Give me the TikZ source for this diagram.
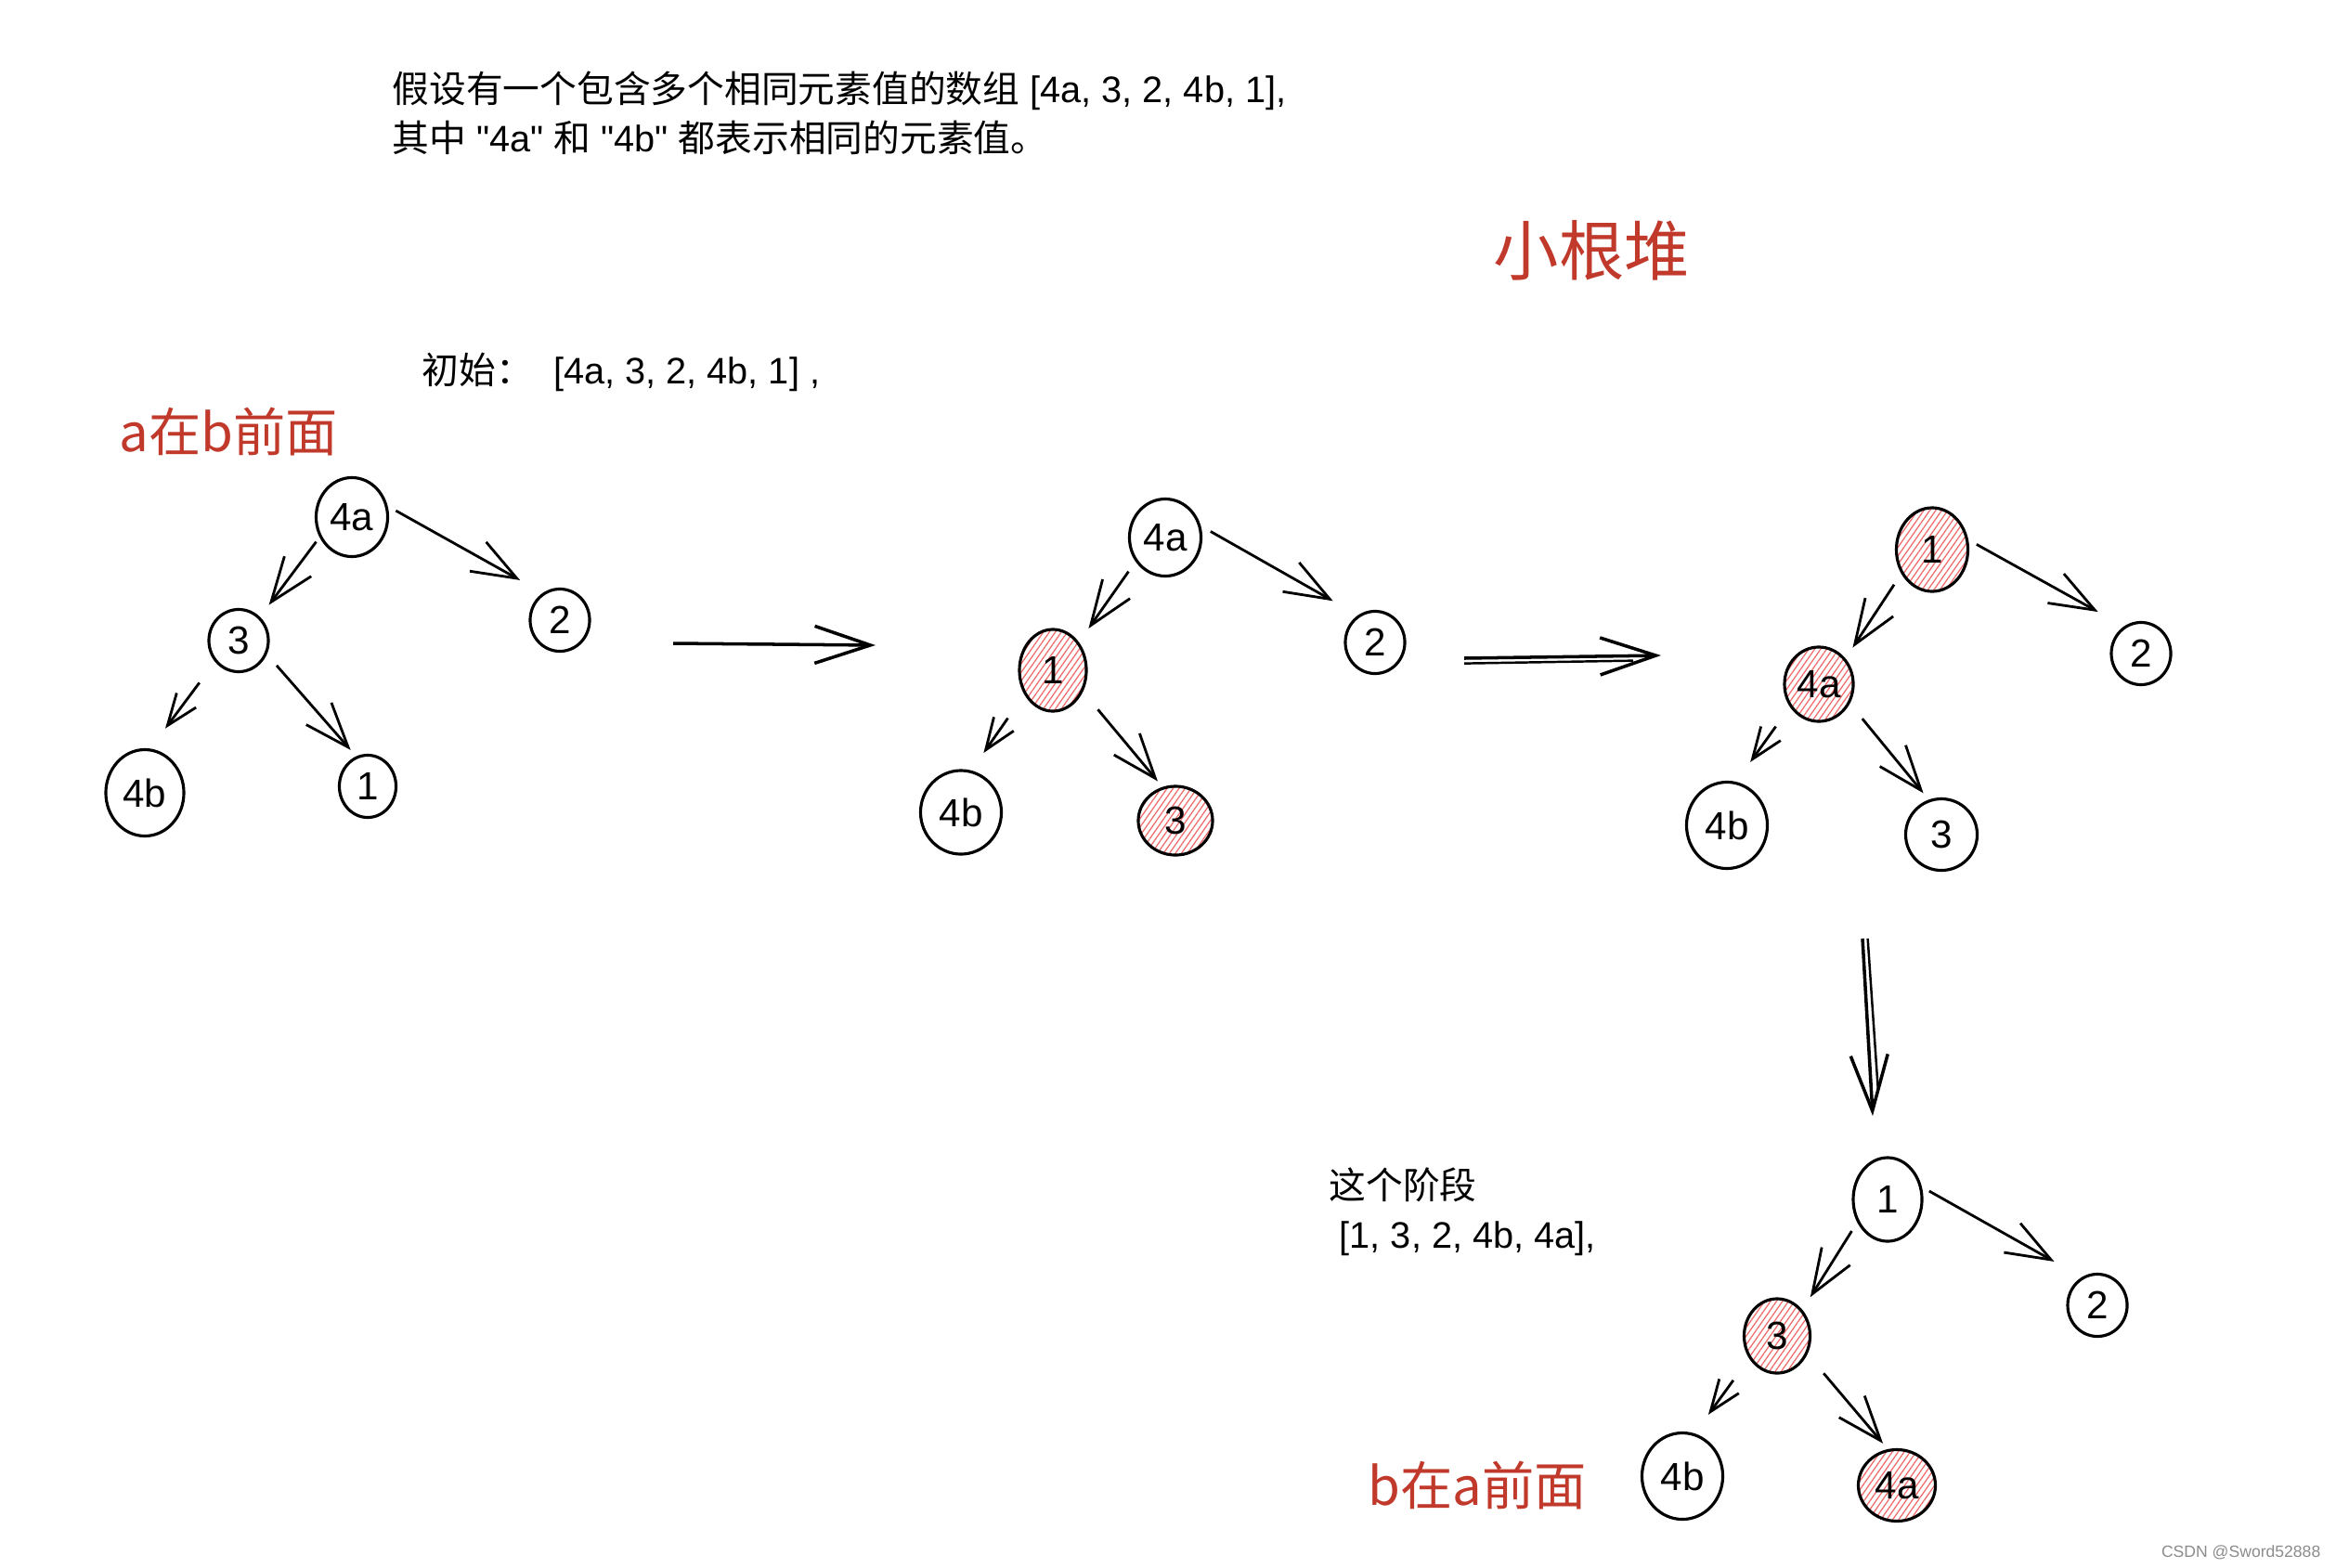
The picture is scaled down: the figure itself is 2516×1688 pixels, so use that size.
\documentclass[tikz,border=0pt]{standalone}
\usepackage{fontspec}
\usepackage{tikz}
\usetikzlibrary{arrows.meta,shapes.geometric,patterns.meta}
\setmainfont{Liberation Sans}
\newfontfamily\cjkfont{Noto Sans CJK SC}
\newcommand{\zh}[1]{{\cjkfont #1}}
\newcommand{\dq}{\XeTeXglyph\XeTeXcharglyph 34 \relax}
\definecolor{notered}{RGB}{192,57,43}
\definecolor{hatchred}{RGB}{240,105,105}
\tikzset{
  nd/.style 2 args={ellipse,draw=black,line width=0.9pt,minimum width=#1,minimum height=#2,
    inner sep=0pt,font=\fontsize{12}{14}\selectfont},
  hot/.style={pattern={Lines[angle=55,distance=1.5pt,line width=0.35pt]},pattern color=hatchred},
  arr/.style={-{Straight Barb[length=0.48cm,width=0.36cm]},line width=0.8pt},
  arrs/.style={-{Straight Barb[length=0.34cm,width=0.26cm]},line width=0.8pt},
  bigarr/.style={-{Straight Barb[length=0.6cm,width=0.4cm]},line width=1pt},
  txt/.style={anchor=west,align=left,inner sep=0pt,font=\fontsize{11.3}{15}\selectfont},
  redtxt/.style={anchor=west,inner sep=0pt,text=notered,font=\cjkfont\fontsize{16}{18}\selectfont}
}
\begin{document}
\begin{tikzpicture}[x=0.01cm,y=-0.01cm]
    \path[fill=white] (0,0) rectangle (2516,1688);
    \useasboundingbox (0,0) rectangle (2516,1688);

    % Texts
    \node[txt] (intro) at (422,122) {\zh{假设有一个包含多个相同元素值的数组} [4a, 3, 2, 4b, 1],\\\zh{其中} \dq4a\dq\ \zh{和} \dq4b\dq\ \zh{都表示相同的元素值。}};
    \node[anchor=west,inner sep=0pt,text=notered,font=\cjkfont\fontsize{20}{22}\selectfont] (title) at (1608,270) {小根堆};
    \node[txt] (start) at (454,401) {\zh{初始：}\ \ [4a, 3, 2, 4b, 1] ,};
    \node[redtxt] (abefore) at (128,465) {a在b前面};
    \node[txt] (stage) at (1431,1305) {\zh{这个阶段}\\\ [1, 3, 2, 4b, 4a],};
    \node[redtxt] (bbefore) at (1473,1600) {b在a前面};
    \node[anchor=east,inner sep=0pt,text=black!45,font=\fontsize{5}{6}\selectfont] (mark) at (2500,1672) {CSDN @Sword52888};

    % Tree 1: initial
    \node[nd={0.77cm}{0.85cm}] (t1n4a) at (379,557) {4a};
    \node[nd={0.64cm}{0.67cm}] (t1n3) at (257,690) {3};
    \node[nd={0.64cm}{0.67cm}] (t1n2) at (603,668) {2};
    \node[nd={0.84cm}{0.93cm}] (t1n4b) at (156,854) {4b};
    \node[nd={0.61cm}{0.67cm}] (t1n1) at (396,847) {1};
    \draw[arr,shorten <=0.06cm,shorten >=0.16cm] (t1n4a.212) -- (t1n3.48);
    \draw[arr,shorten <=0.10cm,shorten >=0.28cm] (t1n4a.17) -- (t1n2.122);
    \draw[arrs,shorten <=0.28cm,shorten >=0.27cm] (t1n3.222) -- (t1n4b.83);
    \draw[arr,shorten <=0.16cm,shorten >=0.09cm] (t1n3.334) -- (t1n1.111);

    % Tree 2: 1 up
    \node[nd={0.77cm}{0.83cm}] (t2n4a) at (1255,579) {4a};
    \node[nd={0.72cm}{0.88cm},hot] (t2n1) at (1134,722) {1};
    \node[nd={0.64cm}{0.67cm}] (t2n2) at (1481,692) {2};
    \node[nd={0.87cm}{0.90cm}] (t2n4b) at (1035,875) {4b};
    \node[nd={0.80cm}{0.74cm},hot] (t2n3) at (1266,884) {3};
    \draw[arr,shorten <=0.13cm,shorten >=0.19cm] (t2n4a.219) -- (t2n1.47);
    \draw[arr,shorten <=0.12cm,shorten >=0.31cm] (t2n4a.18) -- (t2n2.122);
    \draw[arrs,shorten <=0.32cm,shorten >=0.23cm] (t2n1.220) -- (t2n4b.76);
    \draw[arr,shorten <=0.26cm,shorten >=0.08cm] (t2n1.325) -- (t2n3.111);

    % Tree 3: 1 at root
    \node[nd={0.77cm}{0.90cm},hot] (t3n1) at (2081,592) {1};
    \node[nd={0.74cm}{0.80cm},hot] (t3n4a) at (1959,737) {4a};
    \node[nd={0.64cm}{0.67cm}] (t3n2) at (2306,704) {2};
    \node[nd={0.87cm}{0.93cm}] (t3n4b) at (1860,889) {4b};
    \node[nd={0.77cm}{0.77cm}] (t3n3) at (2091,899) {3};
    \draw[arr,shorten <=0.14cm,shorten >=0.14cm] (t3n1.218) -- (t3n4a.44);
    \draw[arr,shorten <=0.10cm,shorten >=0.32cm] (t3n1.15) -- (t3n2.122);
    \draw[arrs,shorten <=0.26cm,shorten >=0.26cm] (t3n4a.218) -- (t3n4b.78);
    \draw[arr,shorten <=0.21cm,shorten >=0.09cm] (t3n4a.328) -- (t3n3.110);

    % Tree 4: this stage
    \node[nd={0.74cm}{0.90cm}] (t4n1) at (2033,1292) {1};
    \node[nd={0.71cm}{0.80cm},hot] (t4n3) at (1914,1439) {3};
    \node[nd={0.64cm}{0.67cm}] (t4n2) at (2259,1406) {2};
    \node[nd={0.87cm}{0.93cm}] (t4n4b) at (1812,1590) {4b};
    \node[nd={0.83cm}{0.77cm},hot] (t4n4a) at (2043,1600) {4a};
    \draw[arr,shorten <=0.11cm,shorten >=0.16cm] (t4n1.217) -- (t4n3.46);
    \draw[arr,shorten <=0.09cm,shorten >=0.34cm] (t4n1.20) -- (t4n2.119);
    \draw[arrs,shorten <=0.29cm,shorten >=0.25cm] (t4n3.219) -- (t4n4b.74);
    \draw[arr,shorten <=0.27cm,shorten >=0.08cm] (t4n3.329) -- (t4n4a.104);

    % Stage arrows
    \coordinate (s1) at (725,693);
    \coordinate (e1) at (943,695);
    \coordinate (s2) at (1577,709);
    \coordinate (e2) at (1789,706);
    \coordinate (s3) at (2006,1011);
    \coordinate (e3) at (2017,1202);
    \draw[bigarr] (s1) -- (e1);
    \draw[bigarr] (s2) -- (e2);
    \draw[line width=0.7pt] ([yshift=-1.6pt]s2) -- ([yshift=-1.6pt,xshift=-0.3cm]e2);
    \draw[bigarr] (s3) -- (e3);
    \draw[line width=0.7pt] ([xshift=1.6pt]s3) -- ([xshift=1.6pt,yshift=0.3cm]e3);
\end{tikzpicture}
\end{document}
